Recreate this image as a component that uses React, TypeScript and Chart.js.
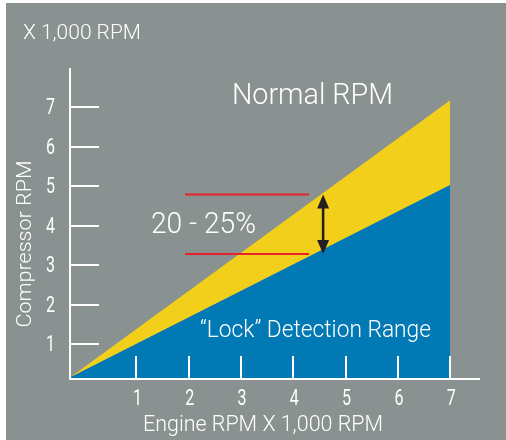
import React, { useEffect, useRef } from "react";
import { Chart, registerables } from "chart.js";

Chart.register(...registerables);

// ---- data ----
const engineRpm = [-0.27, 7]; // x values of the wedge (apex at axis corner, end at 7)
const lockBoundary = [0.15, 5.03]; // top of the "Lock" detection range (blue)
const normalBoundary = [0.15, 7.18]; // top of the normal RPM band (yellow)
const xTickValues = [1, 2, 3, 4, 5, 6, 7];
const yTickValues = [1, 2, 3, 4, 5, 6, 7];
const bandLineX = [1.93, 4.3]; // red reference lines extent
const bandLineY = [4.79, 3.28]; // red reference lines levels
const arrowX = 4.57;

const X_MIN = -0.27;
const X_MAX = 7.57;
const Y_MIN = 0.11;
const Y_MAX = 8.0;

const GRAY = "#8a9191";
const YELLOW = "#f2cf1b";
const BLUE = "#0079b4";
const RED = "#e6232b";
const FONT = "Roboto, 'Liberation Sans', sans-serif";

function drawFitText(
  ctx: CanvasRenderingContext2D,
  text: string,
  x: number,
  y: number,
  size: number,
  targetWidth: number | null,
  align: CanvasTextAlign = "left",
  weight = "300"
) {
  ctx.save();
  ctx.font = `${weight} ${size}px ${FONT}`;
  ctx.textAlign = align;
  ctx.textBaseline = "alphabetic";
  const w = ctx.measureText(text).width;
  const sx = targetWidth ? targetWidth / w : 1;
  ctx.translate(x, y);
  ctx.scale(sx, 1);
  ctx.fillText(text, 0, 0);
  ctx.restore();
}

const decorPlugin = {
  id: "decor",
  beforeDraw(chart: any) {
    const ctx = chart.ctx as CanvasRenderingContext2D;
    ctx.save();
    ctx.fillStyle = "#ffffff";
    ctx.fillRect(0, 0, chart.width, chart.height);
    ctx.fillStyle = GRAY;
    ctx.fillRect(6, 3, chart.width - 6, chart.height - 3);
    ctx.restore();
  },
  afterDatasetsDraw(chart: any) {
    const ctx = chart.ctx as CanvasRenderingContext2D;
    const xs = chart.scales.x;
    const ys = chart.scales.y;
    const x0 = xs.getPixelForValue(X_MIN);
    const x1 = xs.getPixelForValue(X_MAX);
    const y0 = ys.getPixelForValue(Y_MIN);
    const y1 = ys.getPixelForValue(Y_MAX);

    ctx.save();
    ctx.strokeStyle = "#ffffff";
    ctx.lineWidth = 2;
    ctx.lineCap = "butt";
    // axes
    ctx.beginPath();
    ctx.moveTo(x0, y1);
    ctx.lineTo(x0, y0);
    ctx.lineTo(x1, y0);
    ctx.stroke();
    // y tick marks
    yTickValues.forEach((v) => {
      const py = Math.round(ys.getPixelForValue(v));
      ctx.beginPath();
      ctx.moveTo(x0, py);
      ctx.lineTo(x0 + 29, py);
      ctx.stroke();
    });
    // x tick marks
    xTickValues.forEach((v) => {
      const px = Math.round(xs.getPixelForValue(v));
      ctx.beginPath();
      ctx.moveTo(px, y0);
      ctx.lineTo(px, y0 - 23);
      ctx.stroke();
    });

    // tick labels
    ctx.fillStyle = "#ffffff";
    yTickValues.forEach((v) => {
      const py = ys.getPixelForValue(v);
      drawFitText(ctx, String(v), 55, py + 7, 22, 9, "right", "400");
    });
    xTickValues.forEach((v) => {
      const px = xs.getPixelForValue(v);
      drawFitText(ctx, String(v), px + 1, 405, 22, 9, "center", "400");
    });

    // red reference lines
    ctx.strokeStyle = RED;
    ctx.lineWidth = 2;
    bandLineY.forEach((v) => {
      const py = ys.getPixelForValue(v);
      ctx.beginPath();
      ctx.moveTo(xs.getPixelForValue(bandLineX[0]), py);
      ctx.lineTo(xs.getPixelForValue(bandLineX[1]), py);
      ctx.stroke();
    });

    // double arrow
    const ax = xs.getPixelForValue(arrowX);
    const aTop = ys.getPixelForValue(bandLineY[0]);
    const aBot = ys.getPixelForValue(bandLineY[1]);
    ctx.strokeStyle = "#231f20";
    ctx.fillStyle = "#231f20";
    ctx.lineWidth = 2.5;
    ctx.beginPath();
    ctx.moveTo(ax, aTop + 8);
    ctx.lineTo(ax, aBot - 8);
    ctx.stroke();
    ctx.beginPath();
    ctx.moveTo(ax, aTop);
    ctx.lineTo(ax - 6, aTop + 14);
    ctx.lineTo(ax + 6, aTop + 14);
    ctx.closePath();
    ctx.fill();
    ctx.beginPath();
    ctx.moveTo(ax, aBot);
    ctx.lineTo(ax - 6, aBot - 14);
    ctx.lineTo(ax + 6, aBot - 14);
    ctx.closePath();
    ctx.fill();

    // texts
    ctx.fillStyle = "#ffffff";
    drawFitText(ctx, "X 1,000 RPM", 23, 39, 20, 118);
    drawFitText(ctx, "Normal RPM", 232, 104, 30, 161);
    drawFitText(ctx, "20 - 25%", 151, 233, 30, 105);
    drawFitText(ctx, "\u201CLock\u201D Detection Range", 200, 337, 24, 231);
    drawFitText(ctx, "Engine RPM X 1,000 RPM", 143, 431, 22, 240);
    ctx.save();
    ctx.translate(31, 244);
    ctx.rotate(-Math.PI / 2);
    drawFitText(ctx, "Compressor RPM", 0, 0, 21, 167, "center");
    ctx.restore();

    ctx.restore();
  },
};

export default function App() {
  const ref = useRef<HTMLCanvasElement | null>(null);
  useEffect(() => {
    document.body.style.margin = "0";
    const canvas = ref.current!;
    const chart = new Chart(canvas, {
      type: "line",
      data: {
        datasets: [
          {
            label: "Lock detection range",
            data: engineRpm.map((x, i) => ({ x, y: lockBoundary[i] })),
            borderWidth: 0,
            pointRadius: 0,
            backgroundColor: BLUE,
            borderColor: BLUE,
            fill: "start",
            tension: 0,
          },
          {
            label: "Normal RPM",
            data: engineRpm.map((x, i) => ({ x, y: normalBoundary[i] })),
            borderWidth: 0,
            pointRadius: 0,
            backgroundColor: YELLOW,
            borderColor: YELLOW,
            fill: "-1",
            tension: 0,
          },
        ],
      },
      options: {
        responsive: false,
        animation: false,
        layout: { padding: { left: 70, right: 26, top: 68, bottom: 61 } },
        plugins: { legend: { display: false }, tooltip: { enabled: false } },
        scales: {
          x: { type: "linear", min: X_MIN, max: X_MAX, display: false },
          y: { type: "linear", min: Y_MIN, max: Y_MAX, display: false },
        },
      },
      plugins: [decorPlugin],
    });
    return () => chart.destroy();
  }, []);
  return (
    <div style={{ position: "absolute", left: 0, top: 0 }}>
      <canvas ref={ref} width={506} height={440} />
    </div>
  );
}
